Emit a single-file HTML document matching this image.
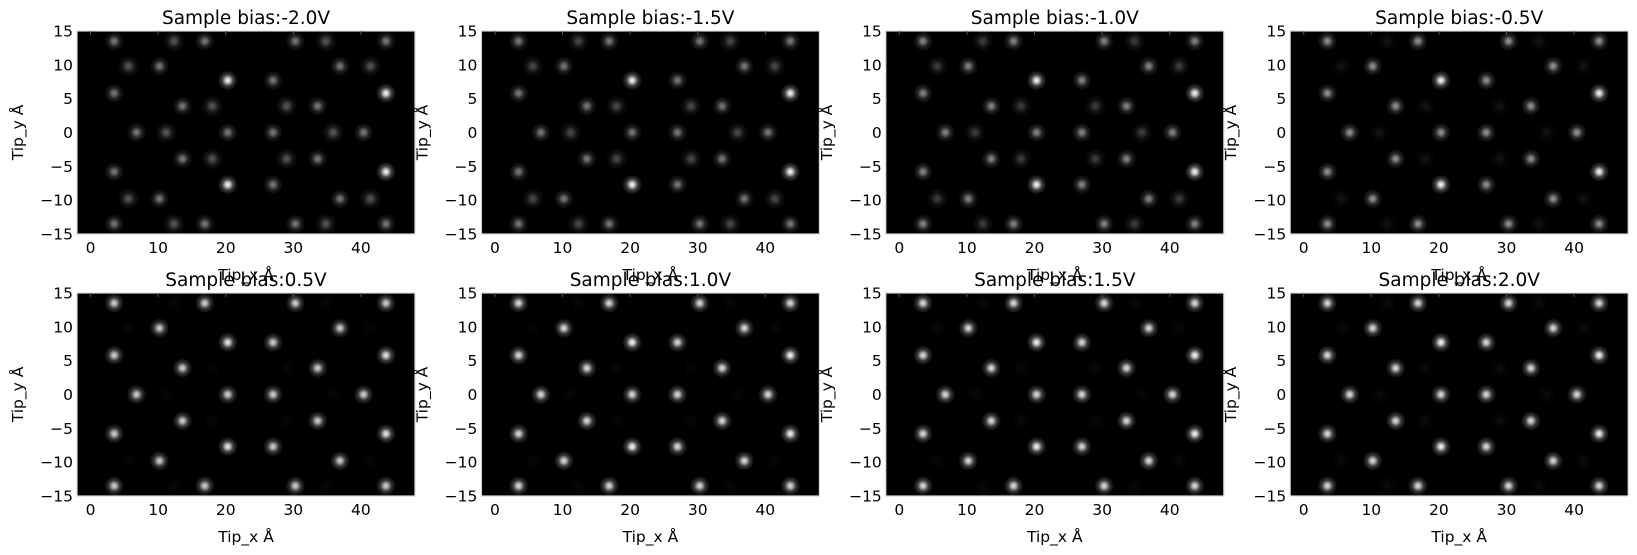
<!DOCTYPE html>
<html><head><meta charset="utf-8">
<style>
html,body{margin:0;padding:0;background:#fff;}
svg{display:block;font-family:"DejaVu Sans","Liberation Sans",sans-serif;}
</style></head>
<body>
<svg id="fig" width="1637" height="555" viewBox="0 0 1637 555" xmlns="http://www.w3.org/2000/svg">
<defs>
<radialGradient id="blob">
<stop offset="0" stop-color="#fff" stop-opacity="1"/>
<stop offset="0.25" stop-color="#fff" stop-opacity="0.75"/>
<stop offset="0.55" stop-color="#fff" stop-opacity="0.25"/>
<stop offset="1" stop-color="#fff" stop-opacity="0"/>
</radialGradient>
</defs>
</svg>
<script>
const biasLabels = ["-2.0","-1.5","-1.0","-0.5","0.5","1.0","1.5","2.0"];
const brightLevel = [1.0,1.0,1.0,1.0,0.95,1.0,1.0,1.0];
const mainLevel = [0.5,0.5,0.55,0.6,0.85,0.9,0.9,0.9];
const dimLevel = [0.35,0.3,0.25,0.08,0.03,0.03,0.04,0.05];
const siteX = [3.5,16.9,30.3,43.7, 3.5,43.7, 10.2,36.9, 13.6,33.6, 6.8,40.4, 20.3,27.0, 20.3,27.0,
               12.35,34.8, 5.6,41.4, 18.0,29.0, 11.2,35.9];
const siteY = [13.5,13.5,13.5,13.5, 5.8,5.8, 9.8,9.8, 3.9,3.9, 0,0, 0,0, 7.7,7.7,
               13.5,13.5, 9.8,9.8, 3.9,3.9, 0,0];
const siteGroup = ["m","m","m","m","m","b","m","m","m","m","m","m","m","m","b","m",
                   "d","d","d","d","d","d","d","d"];
const xTicks = [0,10,20,30,40];
const yTicks = [15,10,5,0,-5,-10,-15];

const NS = "http://www.w3.org/2000/svg";
const svg = document.getElementById("fig");
const panelLeft0 = 77, panelStep = 404.4, panelW = 338;
const rowTop = [31, 293], panelH = 203;
function mk(tag, attrs, parent){
  const e = document.createElementNS(NS, tag);
  for (const k in attrs) e.setAttribute(k, attrs[k]);
  (parent||svg).appendChild(e);
  return e;
}
biasLabels.forEach((b, i) => {
  const col = i % 4, row = Math.floor(i / 4);
  const L = panelLeft0 + col * panelStep, T = rowTop[row];
  const sx = v => L + (v + 2) / 50 * panelW;
  const sy = v => T + (15 - v) / 30 * panelH;
  const g = mk("g", {});
  
  
  const bg = mk("rect", {x: L, y: T, width: panelW, height: panelH, fill: "#000"}, g);
  
  
  const lv = {b: brightLevel[i], m: mainLevel[i], d: dimLevel[i]};
  siteX.forEach((x, k) => {
    [1, -1].forEach(s => {
      const y = siteY[k] * s;
      if (s === -1 && siteY[k] === 0) return;
      const grp = siteGroup[k];
      const r = grp === "d" ? 11 : 10;
      const c = mk("circle", {cx: sx(x), cy: sy(y), r: r, fill: "url(#blob)", opacity: lv[grp]}, g);
      
      
    });
  });
  const fr = mk("rect", {x: L, y: T, width: panelW, height: panelH, fill: "none", stroke: "#d8d8d8", "stroke-width": 1.2}, g);
  
  
  xTicks.forEach(t => {
    const tx = mk("text", {x: sx(t), y: T + panelH + 19, "font-size": 15.5, "text-anchor": "middle", fill: "#000"}, g);
    tx.textContent = t;
    
    
    mk("line", {x1: sx(t), x2: sx(t), y1: T, y2: T + 4, stroke: "#555"}, g);
  });
  yTicks.forEach(t => {
    const ty = mk("text", {x: L - 4, y: sy(t) + 5.5, "font-size": 15.5, "text-anchor": "end", fill: "#000"}, g);
    ty.textContent = t < 0 ? "\u2212" + (-t) : t;
    
    
  });
  const title = mk("text", {x: L + panelW / 2, y: T - 7, "font-size": 18.5, "text-anchor": "middle", fill: "#000"}, g);
  title.textContent = "Sample bias:" + b + "V";
  
  
  const xl = mk("text", {x: L + panelW / 2, y: T + panelH + 46, "font-size": 15.5, "text-anchor": "middle", fill: "#000"}, g);
  xl.textContent = "Tip_x \u00C5";
  
  
  const yx = L - 54, yy = T + panelH / 2;
  const yl = mk("text", {x: yx, y: yy, "font-size": 15.5, "text-anchor": "middle", fill: "#000", transform: "rotate(-90 " + yx + " " + yy + ")"}, g);
  yl.textContent = "Tip_y \u00C5";
  
  
});
</script>
</body></html>
